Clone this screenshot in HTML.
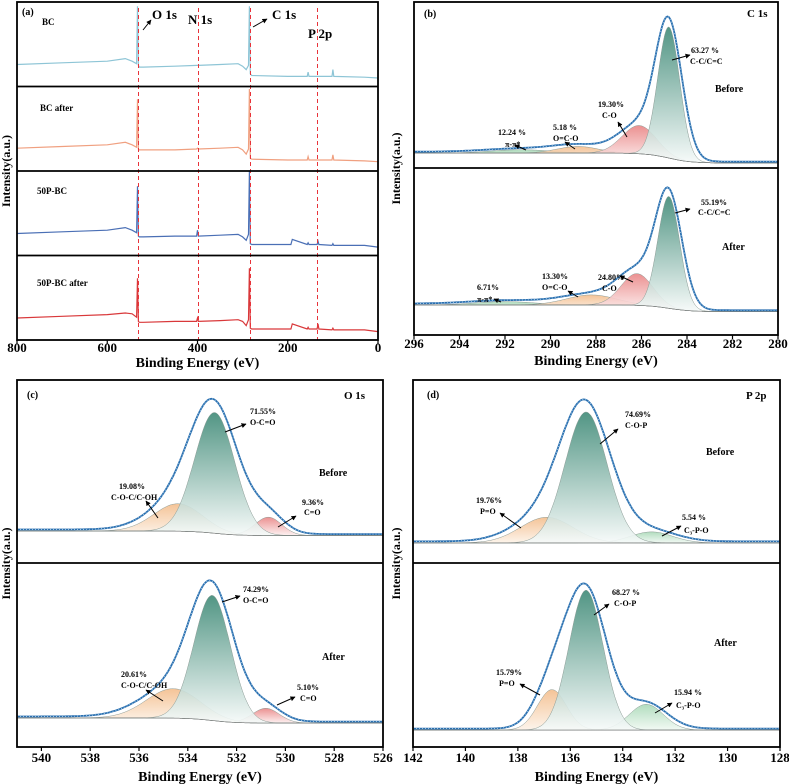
<!DOCTYPE html>
<html><head><meta charset="utf-8"><style>
body{margin:0;background:#fff}
svg{display:block;font-family:"Liberation Serif",serif;font-weight:bold}
</style></head><body>
<svg id="fig" width="789" height="784" viewBox="0 0 789 784" xmlns="http://www.w3.org/2000/svg">
<defs>
<linearGradient id="gGreen" x1="0" y1="0" x2="0" y2="1"><stop offset="0" stop-color="#3f8a77"/><stop offset="1" stop-color="#f6faf9"/></linearGradient>
<linearGradient id="gRed" x1="0" y1="0" x2="0" y2="1"><stop offset="0" stop-color="#e98585"/><stop offset="1" stop-color="#fdf0f0"/></linearGradient>
<linearGradient id="gOrange" x1="0" y1="0" x2="0" y2="1"><stop offset="0" stop-color="#f3bd8c"/><stop offset="1" stop-color="#fdf3e9"/></linearGradient>
<linearGradient id="gLight" x1="0" y1="0" x2="0" y2="1"><stop offset="0" stop-color="#a9d9b7"/><stop offset="1" stop-color="#f1f9f3"/></linearGradient>
<marker id="arr" viewBox="0 0 10 10" refX="9" refY="5" markerWidth="5" markerHeight="5" orient="auto"><path d="M0,0L10,5L0,10z" fill="#000"/></marker>
</defs>
</svg>
<script>
// ---- Survey (panel a) data ----
const surveyEnergy = [800,700,600,560,545,535,533,531,529,520,450,402,400,398,350,310,300,292,287,285,283,280,200,193,190,157,155,153,135,133,131,102,100,98,30,0];
const surveyBC      = [0.26,0.28,0.30,0.33,0.30,0.27,0.95,0.25,0.23,0.23,0.24,0.25,0.25,0.25,0.26,0.27,0.24,0.20,0.25,0.95,0.15,0.13,0.12,0.12,0.12,0.12,0.17,0.12,0.12,0.12,0.12,0.12,0.20,0.12,0.11,0.10];
const surveyBCafter = [0.27,0.29,0.31,0.34,0.31,0.28,0.85,0.26,0.25,0.25,0.25,0.26,0.27,0.26,0.27,0.28,0.25,0.20,0.26,0.97,0.15,0.14,0.13,0.13,0.13,0.13,0.17,0.13,0.13,0.13,0.13,0.13,0.19,0.13,0.12,0.11];
const survey50P     = [0.26,0.28,0.30,0.33,0.30,0.27,0.82,0.23,0.22,0.22,0.23,0.23,0.30,0.23,0.24,0.25,0.22,0.18,0.25,1.00,0.14,0.13,0.13,0.13,0.19,0.13,0.15,0.13,0.13,0.17,0.13,0.12,0.14,0.12,0.12,0.10];
const survey50Pafter= [0.26,0.28,0.30,0.32,0.31,0.27,0.73,0.22,0.21,0.21,0.22,0.22,0.26,0.22,0.23,0.24,0.22,0.17,0.24,0.85,0.14,0.13,0.13,0.13,0.19,0.13,0.15,0.13,0.13,0.19,0.13,0.12,0.14,0.12,0.12,0.10];
const surveyNames = ["BC","BC after","50P-BC","50P-BC after"];
const surveyColors = ["#8ec5d6","#f0a080","#4a6fb5","#d9383a"];
const surveyRefLines = [532,400,284,135];
const xTicksA = [800,600,400,200,0];

// ---- Component fit data: [center, amplitude, sigma] ----
const bBeforeCenters=[284.8,286.1,288.8,291.3], bBeforeAmps=[0.79,0.17,0.04,0.02], bBeforeSig=[0.48,0.75,0.9,1.3], bBeforeBase=[0.09,0.03];
const bAfterCenters=[284.8,286.2,288.2,292.0], bAfterAmps=[0.67,0.19,0.06,0.02], bAfterSig=[0.48,0.7,1.1,1.3], bAfterBase=[0.18,0.14];
const cBeforeCenters=[532.9,534.4,530.7], cBeforeAmps=[0.66,0.15,0.10], cBeforeSig=[0.82,1.0,0.55], cBeforeBase=[0.175,0.15];
const cAfterCenters=[533.0,534.6,530.8], cAfterAmps=[0.68,0.16,0.08], cAfterSig=[0.75,1.1,0.55], cAfterBase=[0.158,0.13];
const dBeforeCenters=[135.4,136.9,132.9], dBeforeAmps=[0.715,0.14,0.06], dBeforeSig=[0.8,1.0,0.8], dBeforeBase=[0.11,0.11];
const dAfterCenters=[135.4,136.7,133.1], dAfterAmps=[0.76,0.22,0.14], dAfterSig=[0.65,0.55,0.65], dAfterBase=[0.092,0.092];
const xTicksB=[296,294,292,290,288,286,284,282,280];
const xTicksC=[540,538,536,534,532,530,528,526];
const xTicksD=[142,140,138,136,134,132,130,128];

const svg=document.getElementById('fig');
const NS='http://www.w3.org/2000/svg';
function mk(tag,attrs,parent){const e=document.createElementNS(NS,tag);for(const k in attrs)e.setAttribute(k,attrs[k]);(parent||svg).appendChild(e);return e;}
function txt(x,y,s,size,name,anchor,parent){const t=mk('text',{x:x,y:y,'font-size':size,'text-anchor':anchor||'start'},parent);t.textContent=s;


return t;}
function scale(d0,d1,r0,r1){return v=>r0+(v-d0)/(d1-d0)*(r1-r0);}

function frameAndAxes(p,ticks,tickY,titleY,ylabX,name){
  const g=mk('g',{});
  
  
  const xs=scale(p.d0,p.d1,p.x0,p.x1);
  ticks.forEach(t=>{
    mk('line',{x1:xs(t),x2:xs(t),y1:p.y1,y2:p.y1+4,stroke:'#000','stroke-width':1.2},g);
    txt(xs(t),tickY,String(t),13,'x-tick-label','middle',g);
  });
  txt((p.x0+p.x1)/2,titleY,'Binding Energy (eV)',14,'x-axis-title','middle',g);
  const yl=txt(ylabX,(p.y0+p.y1)/2,'Intensity(a.u.)',12,'y-axis-title','middle',g);
  yl.setAttribute('transform','rotate(-90 '+ylabX+' '+(p.y0+p.y1)/2+')');
  return g;
}
function frame(p,splits,g){
  mk('rect',{x:p.x0,y:p.y0,width:p.x1-p.x0,height:p.y1-p.y0,fill:'none',stroke:'#000','stroke-width':1.8},g);
  splits.forEach(s=>mk('line',{x1:p.x0,x2:p.x1,y1:s,y2:s,stroke:'#000','stroke-width':1.8},g));
}

// ---- Panel a ----
(function(){
  const p={x0:17,x1:378,y0:2,y1:340,d0:800,d1:0};
  const g=frameAndAxes(p,xTicksA,352,367,10,'panel-a');
  const xs=scale(p.d0,p.d1,p.x0,p.x1);
  const series=[surveyBC,surveyBCafter,survey50P,survey50Pafter];
  const h=(p.y1-p.y0)/4;
  series.forEach((vals,i)=>{
    const bottom=p.y0+h*(i+1);
    const pts=surveyEnergy.map((e,k)=>xs(e).toFixed(1)+','+(bottom-vals[k]*h).toFixed(1)).join(' ');
    const l=mk('polyline',{points:pts,fill:'none',stroke:surveyColors[i],'stroke-width':1.2},g);
    
    
  });
  surveyRefLines.forEach(e=>{
    const x=Math.round(xs(e))+0.5;
    const l=mk('line',{x1:x,x2:x,y1:8,y2:p.y1,stroke:'#e8333a','stroke-width':1,'stroke-dasharray':'4,3'},g);
    
    
  });
  frame(p,[p.y0+h,p.y0+2*h,p.y0+3*h],g);
  txt(22,15,'(a)',10,'panel-label','start',g);
  const lp=[[42,25],[40,111],[37,194],[37,286]];
  surveyNames.forEach((n,i)=>txt(lp[i][0],lp[i][1],n,9,'series-label','start',g));
  txt(152,19,'O 1s',13,'peak-label-o1s','start',g);
  txt(188,24,'N 1s',13,'peak-label-n1s','start',g);
  txt(272,19,'C 1s',13,'peak-label-c1s','start',g);
  txt(308,38,'P 2p',13,'peak-label-p2p','start',g);
  mk('line',{x1:143,y1:30,x2:151,y2:20,stroke:'#000','marker-end':'url(#arr)'},g);
  mk('line',{x1:253,y1:27,x2:267,y2:19,stroke:'#000','marker-end':'url(#arr)'},g);
})();

// ---- Fit panels ----
const fills=['url(#gGreen)','url(#gRed)','url(#gOrange)','url(#gLight)'];
function fitSub(g,p,xs,top,bottom,centers,amps,sig,base,fillIdx){
  const h=bottom-top;
  const N=260;
  const c0=centers[0];
  const baseF=E=>{const s=1/(1+Math.exp(-(E-c0)/0.5));return base[1]+(base[0]-base[1])*s;};
  const comp=(i,E,k)=>amps[i]*Math.exp(-Math.pow(E-centers[i],2)/(2*sig[i]*sig[i]*k*k));
  const Es=[];for(let k=0;k<=N;k++)Es.push(p.d0+(p.d1-p.d0)*k/N);
  const Y=I=>bottom-I*h;
  const order=centers.map((c,i)=>i).reverse();
  order.forEach(i=>{
    const up=Es.map(E=>xs(E).toFixed(1)+','+Y(baseF(E)+comp(i,E,1)).toFixed(1));
    const dn=Es.slice().reverse().map(E=>xs(E).toFixed(1)+','+Y(baseF(E)).toFixed(1));
    const pg=mk('polygon',{points:up.concat(dn).join(' '),fill:fills[fillIdx[i]],stroke:'#8a9a94','stroke-width':0.5,'fill-opacity':0.9},g);
    
    
  });
  const bl=mk('polyline',{points:Es.map(E=>xs(E).toFixed(1)+','+Y(baseF(E)).toFixed(1)).join(' '),fill:'none',stroke:'#777','stroke-width':0.6},g);
  
  
  const env=Es.map(E=>{let s=0;for(let i=0;i<centers.length;i++)s+=comp(i,E,1.2);return xs(E).toFixed(1)+','+Y(baseF(E)+0.99*s+0.008).toFixed(1);}).join(' ');
  const el=mk('polyline',{points:env,fill:'none',stroke:'#2a6fb0','stroke-width':1.8},g);
  
  
  mk('polyline',{points:env,fill:'none',stroke:'#bfe0f0','stroke-width':0.7,'stroke-dasharray':'1,2'},g);
}
function ann(g,lines){lines.forEach(a=>{txt(a[0],a[1],a[2],8,'annotation','start',g);});}
function arrows(g,list){list.forEach(a=>{const l=mk('line',{x1:a[0],y1:a[1],x2:a[2],y2:a[3],stroke:'#000','stroke-width':1,'marker-end':'url(#arr)'},g);

});}

// b
(function(){
  const p={x0:414,x1:778,y0:2,y1:335,d0:296,d1:280};
  const g=frameAndAxes(p,xTicksB,348,365,400,'panel-b');
  const xs=scale(p.d0,p.d1,p.x0,p.x1);
  fitSub(g,p,xs,2,168,bBeforeCenters,bBeforeAmps,bBeforeSig,bBeforeBase,[0,1,2,3]);
  fitSub(g,p,xs,168,335,bAfterCenters,bAfterAmps,bAfterSig,bAfterBase,[0,1,2,3]);
  frame(p,[168],g);
  txt(424,17,'(b)',10,'panel-label','start',g);
  txt(747,17,'C 1s',11,'panel-title','start',g);
  txt(715,92,'Before',10,'before-label','start',g);
  txt(722,250,'After',10,'after-label','start',g);
  ann(g,[[691,53,'63.27 %'],[690,64,'C-C/C=C'],[598,107,'19.30%'],[602,118,'C-O'],[553,130,'5.18 %'],[553,141,'O=C-O'],[498,135,'12.24 %'],[505,147,'π-π*'],
    [701,205,'55.19%'],[698,215,'C-C/C=C'],[598,280,'24.80%'],[602,291,'C-O'],[542,279,'13.30%'],[542,290,'O=C-O'],[477,290,'6.71%'],[477,302,'π-π*']]);
  arrows(g,[[672,60,690,55],[627,137,618,122],[575,149,565,142],[526,150,515,145],[675,213,690,209],[633,282,620,276],[578,297,568,291],[501,302,494,299]]);
})();
// c
(function(){
  const p={x0:17,x1:383,y0:380,y1:747,d0:541,d1:526};
  const g=frameAndAxes(p,xTicksC,762,781,10,'panel-c');
  const xs=scale(p.d0,p.d1,p.x0,p.x1);
  fitSub(g,p,xs,380,563,cBeforeCenters,cBeforeAmps,cBeforeSig,cBeforeBase,[0,2,1]);
  fitSub(g,p,xs,563,747,cAfterCenters,cAfterAmps,cAfterSig,cAfterBase,[0,2,1]);
  frame(p,[563],g);
  txt(27,398,'(c)',10,'panel-label','start',g);
  txt(344,399,'O 1s',11,'panel-title','start',g);
  txt(319,476,'Before',10,'before-label','start',g);
  txt(322,660,'After',10,'after-label','start',g);
  ann(g,[[250,414,'71.55%'],[250,425,'O-C=O'],[119,489,'19.08%'],[111,500,'C-O-C/C-OH'],[302,505,'9.36%'],[304,515,'C=O'],
    [243,592,'74.29%'],[243,603,'O-C=O'],[121,677,'20.61%'],[121,688,'C-O-C/C-OH'],[297,690,'5.10%'],[300,701,'C=O']]);
  arrows(g,[[225,432,246,424],[158,518,146,501],[278,527,296,516],[222,602,240,596],[163,701,146,690],[277,705,295,697]]);
})();
// d
(function(){
  const p={x0:413,x1:780,y0:380,y1:747,d0:142,d1:128};
  const g=frameAndAxes(p,xTicksD,762,781,400,'panel-d');
  const xs=scale(p.d0,p.d1,p.x0,p.x1);
  fitSub(g,p,xs,380,563,dBeforeCenters,dBeforeAmps,dBeforeSig,dBeforeBase,[0,2,3]);
  fitSub(g,p,xs,563,747,dAfterCenters,dAfterAmps,dAfterSig,dAfterBase,[0,2,3]);
  frame(p,[563],g);
  txt(427,398,'(d)',10,'panel-label','start',g);
  txt(746,399,'P 2p',11,'panel-title','start',g);
  txt(706,455,'Before',10,'before-label','start',g);
  txt(714,646,'After',10,'after-label','start',g);
  ann(g,[[625,417,'74.69%'],[625,428,'C-O-P'],[476,503,'19.76%'],[480,514,'P=O'],[682,520,'5.54 %'],[684,533,'C₃-P-O'],
    [612,595,'68.27 %'],[614,606,'C-O-P'],[496,675,'15.79%'],[499,686,'P=O'],[674,695,'15.94 %'],[676,708,'C₃-P-O']]);
  arrows(g,[[600,444,618,429],[521,528,500,513],[662,536,681,526],[594,615,609,604],[540,695,520,684],[655,713,672,703]]);
})();
</script>
</body></html>
